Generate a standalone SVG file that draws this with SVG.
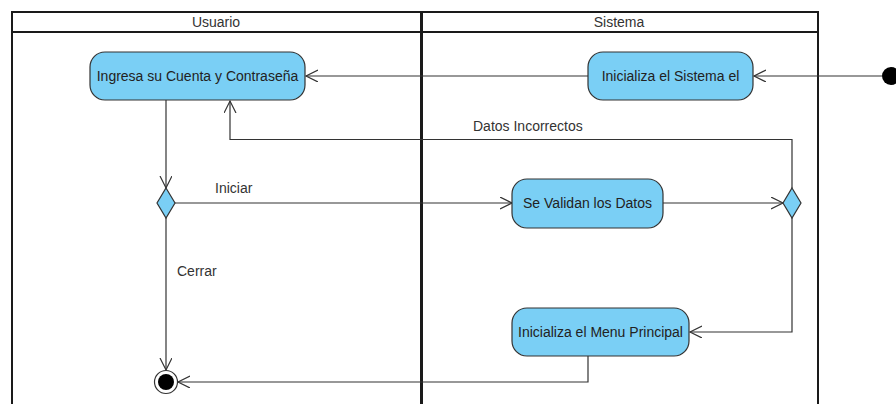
<svg xmlns="http://www.w3.org/2000/svg" width="896" height="404" viewBox="0 0 896 404">
<style>
.lane{fill:none;stroke:#1a1a1a;stroke-width:2}
.hdr{font-family:"Liberation Sans",Arial,sans-serif;font-size:14px;fill:#333;text-anchor:middle}
.act{fill:#7acff5;stroke:#333;stroke-width:1.2}
.lbl{font-family:"Liberation Sans",Arial,sans-serif;font-size:14px;fill:#222;text-anchor:middle}
.elbl{font-family:"Liberation Sans",Arial,sans-serif;font-size:14px;fill:#333}
.edge{fill:none;stroke:#333;stroke-width:1.2}
.dec{fill:#7acff5;stroke:#333;stroke-width:1.2}
</style>
<defs>
<marker id="arr" markerUnits="userSpaceOnUse" markerWidth="14" markerHeight="14" refX="12" refY="6" orient="auto">
<path d="M0,0 L12,6 L0,12" fill="none" stroke="#333" stroke-width="1.2"/>
</marker>
</defs>
<rect width="896" height="404" fill="#fff"/>
<g id="swimlanes">
<rect class="lane" x="12" y="12" width="806" height="400"/>
<line class="lane" x1="12" y1="32" x2="818" y2="32"/>
<line class="lane" x1="421.5" y1="12" x2="421.5" y2="412" style="stroke-width:3"/>
<text class="hdr" x="216" y="27">Usuario</text>
<text class="hdr" x="619" y="27">Sistema</text>
</g>
<g id="connectors">
<line class="edge" x1="882" y1="76" x2="754" y2="76" marker-end="url(#arr)"/>
<line class="edge" x1="588" y1="76" x2="306" y2="76" marker-end="url(#arr)"/>
<line class="edge" x1="166" y1="100" x2="166" y2="188" marker-end="url(#arr)"/>
<line class="edge" x1="175" y1="203" x2="512" y2="203" marker-end="url(#arr)"/>
<line class="edge" x1="663" y1="203" x2="783" y2="203" marker-end="url(#arr)"/>
<polyline class="edge" points="792,188 792,139.5 230,139.5 230,101" marker-end="url(#arr)"/>
<polyline class="edge" points="792,218 792,332 690,332" marker-end="url(#arr)"/>
<line class="edge" x1="166" y1="218" x2="166" y2="370" marker-end="url(#arr)"/>
<polyline class="edge" points="588,356 588,382 178,382" marker-end="url(#arr)"/>
<text class="elbl" x="473" y="131">Datos Incorrectos</text>
<text class="elbl" x="215" y="193">Iniciar</text>
<text class="elbl" x="177" y="276">Cerrar</text>
</g>
<g id="start">
<circle cx="891" cy="76" r="9" fill="#000"/>
</g>
<g id="ingresa">
<rect class="act" x="90" y="52" width="215" height="48" rx="15"/>
<text class="lbl" x="197.5" y="81">Ingresa su Cuenta y Contraseña</text>
</g>
<g id="inicializa-sistema">
<rect class="act" x="588" y="52" width="165" height="48" rx="15"/>
<text class="lbl" x="670.5" y="81">Inicializa el Sistema el</text>
</g>
<g id="decision1">
<polygon class="dec" points="166,188 175,203 166,218 157,203"/>
</g>
<g id="validan">
<rect class="act" x="512" y="179" width="151" height="49" rx="15"/>
<text class="lbl" x="587.5" y="208">Se Validan los Datos</text>
</g>
<g id="decision2">
<polygon class="dec" points="792,188 801,203 792,218 783,203"/>
</g>
<g id="menu">
<rect class="act" x="512" y="308" width="177" height="48" rx="15"/>
<text class="lbl" x="600.5" y="337">Inicializa el Menu Principal</text>
</g>
<g id="final">
<circle cx="166" cy="382" r="11.5" fill="#fff" stroke="#333" stroke-width="1.2"/>
<circle cx="166" cy="382" r="8" fill="#000"/>
</g>
</svg>
